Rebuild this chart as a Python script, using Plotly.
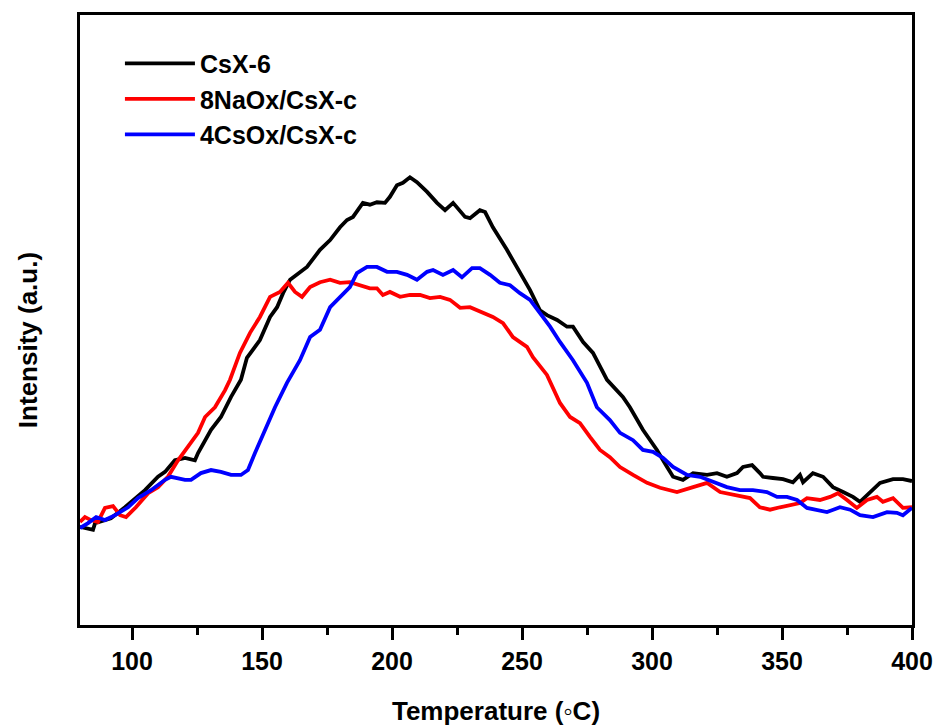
import plotly.graph_objects as go

# ---- data (Temperature in °C, Intensity in a.u.) ----
csx6_T = [80.0, 81.9, 85.0, 85.8, 91.9, 97.3, 105.0, 110.0, 112.7, 116.5, 120.4, 124.2, 125.4,
          130.4, 134.2, 138.1, 141.9, 144.2, 149.2, 153.1, 155.8, 158.1, 160.8, 167.3, 172.3,
          176.2, 180.0, 182.7, 185.0, 188.8, 191.5, 194.2, 197.3, 199.2, 201.9, 204.2, 206.9,
          209.6, 213.5, 217.3, 220.4, 223.5, 228.1, 230.0, 233.8, 235.8, 238.8, 244.2, 249.2,
          253.1, 256.9, 259.6, 263.5, 267.3, 269.6, 273.5, 277.3, 282.7, 288.8, 291.5, 296.5,
          301.9, 305.8, 308.1, 311.9, 315.8, 321.2, 325.0, 328.8, 332.7, 335.0, 338.5, 341.5,
          342.7, 346.5, 350.4, 354.2, 356.9, 358.1, 361.9, 365.8, 369.6, 373.5, 377.3, 380.0,
          382.7, 387.7, 392.7, 396.5, 400.0]
csx6_I = [16.1, 15.9, 15.6, 16.7, 17.5, 19.3, 22.1, 24.3, 25.1, 27.0, 27.4, 27.0, 28.2,
          32.0, 34.1, 37.4, 40.2, 43.8, 46.7, 50.5, 52.1, 54.4, 56.6, 58.7, 61.5,
          63.1, 65.2, 66.4, 66.9, 69.2, 68.9, 69.3, 69.2, 70.2, 72.1, 72.5, 73.4,
          72.6, 71.0, 69.2, 68.0, 69.2, 66.9, 66.7, 68.0, 67.7, 65.2, 61.5, 57.7,
          54.9, 51.6, 50.8, 50.0, 48.9, 48.9, 46.4, 44.6, 40.2, 37.4, 35.7, 32.0,
          28.7, 25.9, 24.3, 23.8, 24.9, 24.6, 24.9, 24.3, 24.9, 25.9, 26.2, 24.9,
          24.3, 24.1, 23.9, 23.4, 24.6, 23.4, 24.9, 24.3, 22.6, 21.8, 21.0, 20.2,
          21.3, 23.3, 23.9, 23.9, 23.6]

naox_T = [80.0, 81.9, 84.2, 86.9, 89.6, 92.7, 95.4, 97.7, 101.5, 106.2, 110.0, 113.8, 117.7,
          121.5, 125.4, 128.1, 131.9, 135.8, 137.7, 141.5, 145.4, 149.2, 153.1, 156.9, 160.0,
          162.7, 165.4, 168.5, 172.3, 176.2, 180.0, 183.8, 187.7, 191.5, 194.2, 196.5, 199.2,
          203.1, 206.9, 210.8, 214.6, 218.5, 222.3, 226.2, 230.0, 235.0, 238.8, 242.7, 246.5,
          251.9, 254.2, 259.6, 264.6, 268.5, 272.3, 276.2, 280.0, 283.8, 287.7, 292.7, 298.1,
          303.1, 309.6, 315.8, 321.2, 326.2, 332.7, 337.7, 341.5, 345.4, 349.2, 353.1, 356.9,
          359.6, 364.6, 368.5, 371.5, 375.0, 378.8, 382.7, 386.5, 388.8, 392.7, 396.5, 400.0]
naox_I = [16.9, 17.7, 17.2, 16.9, 19.2, 19.5, 18.0, 17.7, 19.3, 21.6, 22.6, 24.3, 27.0,
          29.2, 31.5, 34.1, 35.7, 38.5, 40.2, 44.6, 47.9, 50.5, 53.8, 54.6, 56.1,
          54.6, 53.8, 55.4, 56.2, 56.6, 56.1, 56.2, 55.7, 55.2, 55.2, 54.1, 54.6,
          53.8, 54.1, 54.1, 53.6, 53.8, 53.3, 52.0, 52.1, 51.1, 50.5, 49.5, 47.2,
          45.6, 43.9, 41.0, 36.4, 34.1, 33.1, 30.8, 28.7, 27.5, 25.9, 24.6, 23.3,
          22.5, 21.8, 22.6, 23.3, 21.8, 21.3, 20.8, 19.3, 18.9, 19.3, 19.7, 20.0,
          20.8, 20.5, 21.0, 21.6, 20.5, 19.2, 20.5, 21.0, 20.2, 20.8, 19.2, 19.3]

csox_T = [80.0, 83.1, 86.2, 89.6, 93.5, 98.5, 102.3, 107.3, 112.7, 115.0, 120.4, 122.7, 126.5,
          130.4, 134.2, 138.1, 141.9, 144.6, 147.3, 151.2, 155.0, 159.6, 164.6, 168.5, 172.3,
          176.2, 180.0, 183.8, 186.5, 190.4, 194.2, 198.1, 201.9, 205.8, 209.6, 213.5, 215.8,
          219.6, 223.5, 226.9, 230.8, 233.8, 237.7, 241.5, 245.4, 249.2, 253.1, 256.9, 260.8,
          264.6, 269.6, 275.0, 278.8, 283.8, 287.7, 292.7, 296.5, 300.4, 304.2, 308.1, 313.5,
          318.5, 323.5, 328.8, 333.8, 338.8, 344.2, 348.1, 351.9, 355.8, 359.6, 363.5, 367.3,
          372.3, 376.2, 380.0, 385.0, 390.4, 394.2, 396.5, 400.0]
csox_I = [15.9, 16.7, 17.7, 17.2, 18.0, 19.3, 20.8, 22.1, 23.8, 24.3, 23.8, 23.8, 24.9,
          25.4, 25.1, 24.6, 24.6, 25.4, 28.2, 32.0, 35.7, 39.7, 43.4, 47.2, 48.4,
          52.1, 53.8, 55.4, 57.7, 58.7, 58.7, 57.9, 57.9, 57.4, 56.6, 57.9, 58.2,
          57.4, 58.2, 57.0, 58.5, 58.5, 57.4, 56.1, 55.7, 54.4, 53.3, 51.1, 48.9,
          46.4, 43.4, 39.7, 35.7, 33.6, 31.5, 30.3, 28.7, 28.4, 27.4, 25.9, 24.6,
          24.3, 23.4, 22.6, 22.1, 22.1, 21.8, 21.0, 21.0, 20.5, 19.2, 18.9, 18.5,
          19.3, 18.9, 18.0, 17.7, 18.5, 18.4, 18.0, 19.2]

series_names = ["CsX-6", "8NaOx/CsX-c", "4CsOx/CsX-c"]
series_colors = ["#000000", "#ff0000", "#0000ff"]
x_ticks = [100, 150, 200, 250, 300, 350, 400]

FONT = "Arial, Liberation Sans, sans-serif"

fig = go.Figure()
for name, T, I, c in zip(series_names, [csx6_T, naox_T, csox_T],
                         [csx6_I, naox_I, csox_I], series_colors):
    fig.add_trace(go.Scatter(x=T, y=I, mode="lines", name=name,
                             line=dict(color=c, width=3.8)))

fig.update_layout(
    width=938, height=726,
    margin=dict(l=80, r=26, t=15, b=101, autoexpand=False),
    paper_bgcolor="white", plot_bgcolor="white",
    font=dict(family=FONT, color="black"),
    showlegend=True,
    legend=dict(x=0.048, y=0.958, xanchor="left", yanchor="top",
                bgcolor="rgba(0,0,0,0)", itemwidth=70,
                font=dict(family=FONT, size=25, color="black", weight="bold"),
                tracegroupgap=0),
    xaxis=dict(range=[80, 400], tickvals=x_ticks, ticktext=[str(v) for v in x_ticks],
               automargin=False,
               showgrid=False, zeroline=False,
               showline=True, linecolor="black", linewidth=3, mirror=True,
               ticks="outside", ticklen=12, tickwidth=3, tickcolor="black",
               ticklabeloverflow="allow",
               minor=dict(tickvals=[125, 175, 225, 275, 325, 375], ticks="outside",
                          ticklen=7, tickwidth=3, tickcolor="black"),
               tickfont=dict(family=FONT, size=25, color="black", weight="bold"),
               title=dict(text="Temperature (◦C)", standoff=30,
                          font=dict(family=FONT, size=26, color="black", weight="bold"))),
    yaxis=dict(range=[0, 100], automargin=False,
               showgrid=False, zeroline=False, showticklabels=False,
               ticks="", showline=True, linecolor="black", linewidth=3, mirror=True),
    annotations=[dict(text="<b>Intensity (a.u.)</b>", textangle=-90,
                      xref="paper", yref="paper", x=-0.0625, y=0.467,
                      xanchor="center", yanchor="middle", showarrow=False,
                      font=dict(family=FONT, size=26, color="black"))],
)

# remove the browser's default 8px page margin so the 938x726 figure fills the window
fig.write_html("out.html", config={"displayModeBar": False},
               post_script="document.body.style.margin='0';"
                           "document.body.style.overflow='hidden';")
